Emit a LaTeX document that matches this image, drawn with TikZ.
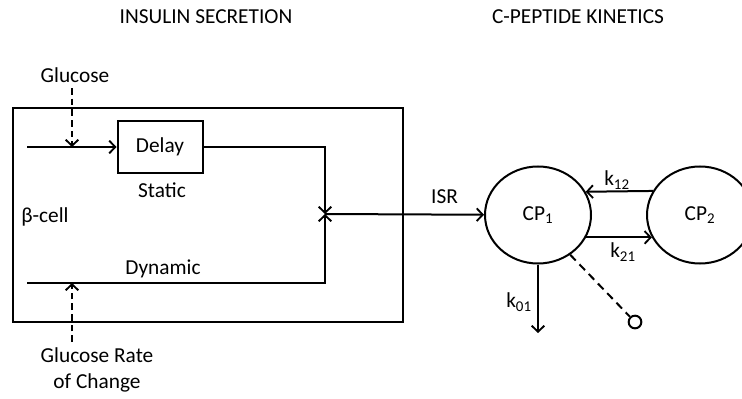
\documentclass[tikz,border=0pt]{standalone}
\usepackage{fontspec}
\setmainfont{Carlito}
\usetikzlibrary{positioning,fit,arrows.meta,shapes.geometric}

\tikzset{
  lbl/.style={font=\fontsize{16}{19.5}\selectfont, inner sep=1pt},
  ln/.style={line width=1.5pt},
  arr/.style={ln, -{Straight Barb[length=4.5pt,width=9.5pt,line width=1.4pt]}},
  darr/.style={arr, dash pattern=on 5pt off 3pt, shorten <=3pt},
  dline/.style={ln, dash pattern=on 6pt off 4pt},
  delaybox/.style={draw, ln, lbl, minimum width=63.75pt, minimum height=39pt},
  cellbox/.style={draw, ln, inner sep=0pt},
  cpnode/.style={ellipse, draw, ln, lbl, minimum width=79.5pt, minimum height=72.75pt, inner sep=0pt},
  sinknode/.style={circle, draw, ln, minimum size=9.5pt, inner sep=0pt},
}

\begin{document}
\begin{tikzpicture}[x=0.75pt, y=-0.75pt]
        \useasboundingbox (0,0) rectangle (742,399);
        % Titles
        \node[lbl] (titleins) at (206,17) {INSULIN SECRETION};
        \node[lbl] (titlecp) at (578,17) {C-PEPTIDE KINETICS};
        % Beta-cell box
        \coordinate (cellnw) at (13,108);
        \coordinate (cellse) at (403,322);
        \node[cellbox, fit=(cellnw) (cellse)] (cell) {};
        \node[lbl] (beta) at (45,217) {β-cell};
        % Static path
        \node[lbl] (glucose) at (75,75) {Glucose};
        \coordinate (instatic) at (27,147);
        \coordinate (gluin) at (72,147);
        \node[delaybox] (delay) at (160,147) {Delay};
        \node[lbl] (static) at (162,190) {Static};
        \coordinate (junction) at (325,214);
        \draw[darr] (glucose.south -| gluin) -- (gluin);
        \draw[arr] (instatic) -- (delay);
        \draw[arr] (delay.east) -| (junction);
        % Dynamic path
        \node[lbl] (dynamic) at (163,269) {Dynamic};
        \coordinate (indynamic) at (27,283);
        \coordinate (ratein) at (72,283);
        \node[lbl, align=center] (rate) at (97,370) {Glucose Rate\\of Change};
        \draw[arr] (indynamic) -| (junction);
        \draw[darr] (rate.north -| ratein) -- (ratein);
        % C-peptide compartments
        \node[cpnode] (cpone) at (538,215) {CP\textsubscript{1}};
        \node[cpnode] (cptwo) at (700,215) {CP\textsubscript{2}};
        \draw[arr] (junction) -- (cpone) node[lbl, midway, above=6pt, xshift=30pt] (isr) {ISR};
        \draw[arr] (cptwo.153.8) -- (cpone.26.2);
        \draw[arr] (cpone.-25) -- (cptwo.205);
        \node[lbl] (kot) at (617,180) {k\textsubscript{12}};
        \node[lbl] (kto) at (623,252) {k\textsubscript{21}};
        % Elimination
        \coordinate (drain) at (538,333);
        \draw[arr] (cpone.south) -- (drain);
        \node[lbl] (kzo) at (519,302) {k\textsubscript{01}};
        \node[sinknode] (sink) at (635,322) {};
        \draw[dline] (cpone.-51) -- (sink);
    \end{tikzpicture}
\end{document}
